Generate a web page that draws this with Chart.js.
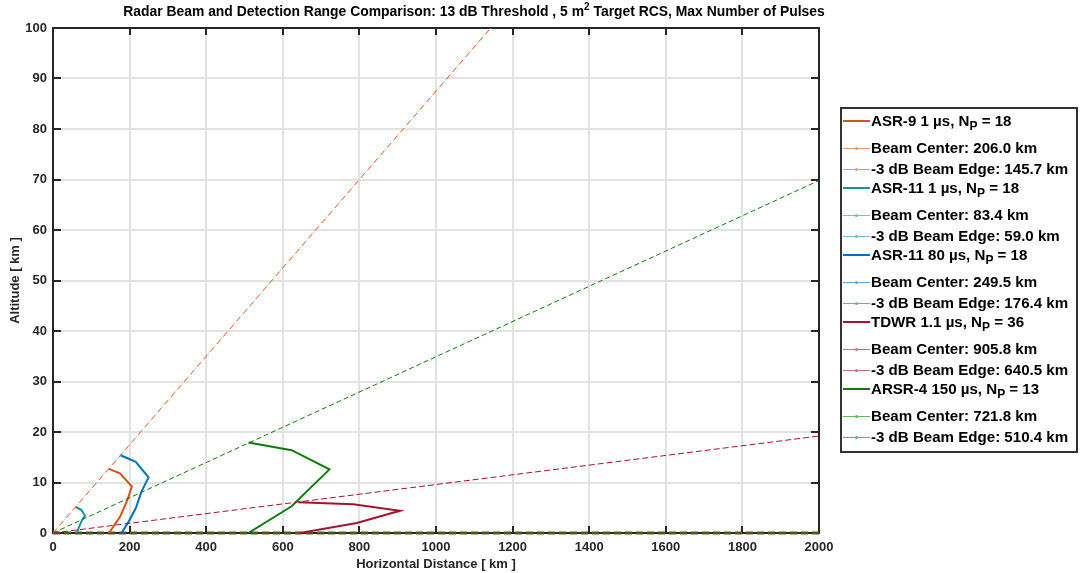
<!DOCTYPE html>
<html lang="en">
<head>
    <meta charset="UTF-8">
    <title>Radar Beam and Detection Range Comparison</title>
    <script src="https://cdn.jsdelivr.net/npm/chart.js"></script>
    <style>
        body {
            margin: 0;
            padding: 0;
            background: #ffffff;
            font-family: 'Liberation Sans', Arial, sans-serif;
        }

        .wrap {
            position: relative;
            width: 1081px;
            height: 573px;
        }

        #chartTitle {
            position: absolute;
            left: 0;
            top: 3px;
            width: 948px;
            text-align: center;
            font-weight: bold;
            font-size: 13.9px;
            color: #000;
            white-space: nowrap;
        }

        #chartTitle sup { font-size: 10px; line-height: 0; }

        /* legenda a la derecha */
        #legend {
            position: absolute;
            left: 840px;
            top: 107px;
            width: 238px;
            height: 346px;
            border: 2px solid #333;
            box-sizing: border-box;
            padding-top: 3px;
            font-weight: bold;
            font-size: 15.1px;
            color: #000;
        }

        .row { position: relative; height: 20.5px; line-height: 20.5px; white-space: nowrap; }
        .row.main { height: 26px; line-height: 18px; }
        .row span.txt { position: absolute; left: 29px; top: 0; }
        .row sub { font-size: 12px; line-height: 0; }

        .sw { position: absolute; left: 1px; width: 27px; }
        .main .sw { top: 8px; height: 2px; }
        .sub .sw { top: 10px; height: 1px; opacity: 0.6; }
        .sub .sw::after {
            content: '';
            position: absolute;
            left: 12px;
            top: -1px;
            width: 3px;
            height: 3px;
            border-radius: 50%;
            background: inherit;
        }
    </style>
</head>
<body>

<div class="wrap">
    <canvas id="radarChart" width="1081" height="573"></canvas>
    <div id="chartTitle">Radar Beam and Detection Range Comparison: 13 dB Threshold , 5 m<sup>2</sup> Target RCS, Max Number of Pulses</div>
    <div id="legend"></div>
</div>

<script>
    // Curvas de alcance de deteccion (km horizontal, km altitud)
    const asr9X = [146, 175, 194, 206.0, 175, 145.7];
    const asr9Y = [0, 3.2, 6.5, 9.2, 11.8, 12.7];

    const asr11X = [62, 68, 76, 83.4, 74, 59.0];
    const asr11Y = [0, 1.2, 2.6, 3.4, 4.6, 5.15];

    const asr11LongX = [179, 197, 216, 231, 249.5, 216, 176.4];
    const asr11LongY = [0, 2.2, 4.9, 8.2, 11.0, 14.1, 15.4];

    const tdwrX = [645, 793, 905.8, 784, 640.5];
    const tdwrY = [0, 2.0, 4.4, 5.7, 6.1];

    const arsr4X = [510, 623, 721.8, 623, 510.4];
    const arsr4Y = [0, 5.3, 12.6, 16.4, 17.9];

    // Bordes del haz (-3 dB) desde el radar
    const edge5X = [0, 1143];
    const edge5Y = [0, 100];
    const edge2X = [0, 2000];
    const edge2Y = [0, 69.8];
    const edgeTdwrX = [0, 2000];
    const edgeTdwrY = [0, 19.2];

    // Centro del haz a nivel del suelo
    const groundX = [0, 2000];
    const groundY = [0, 0];

    const xTicks = [0, 200, 400, 600, 800, 1000, 1200, 1400, 1600, 1800, 2000];
    const yTicks = [0, 10, 20, 30, 40, 50, 60, 70, 80, 90, 100];

    const cOrange = '#D95319';
    const cTeal = '#15969c';
    const cBlue = '#0072BD';
    const cRed = '#A2142F';
    const cGreen = '#0a7d0a';

    function pts(xs, ys) {
        return xs.map((x, i) => ({ x: x, y: ys[i] }));
    }

    function line(xs, ys, color, width, dash, extra) {
        return Object.assign({
            data: pts(xs, ys),
            borderColor: color,
            borderWidth: width,
            borderDash: dash || [],
            pointRadius: 0,
            showLine: true,
            fill: false,
            tension: 0
        }, extra || {});
    }

    // Marcas de los ejes hacia adentro y caja completa (estilo MATLAB)
    const boxTicks = {
        id: 'boxTicks',
        beforeDatasetsDraw(chart) {
            const { ctx, chartArea: a, scales } = chart;
            ctx.save();
            ctx.strokeStyle = '#262626';
            ctx.lineWidth = 2;
            xTicks.forEach(v => {
                const px = Math.round(scales.x.getPixelForValue(v));
                ctx.beginPath();
                ctx.moveTo(px, a.bottom); ctx.lineTo(px, a.bottom - 7);
                ctx.moveTo(px, a.top); ctx.lineTo(px, a.top + 7);
                ctx.stroke();
            });
            yTicks.forEach(v => {
                const py = Math.round(scales.y.getPixelForValue(v));
                ctx.beginPath();
                ctx.moveTo(a.left, py); ctx.lineTo(a.left + 8, py);
                ctx.moveTo(a.right, py); ctx.lineTo(a.right - 8, py);
                ctx.stroke();
            });
            ctx.strokeRect(a.left, a.top, a.right - a.left, a.bottom - a.top);
            ctx.restore();
        }
    };

    const tickFont = { family: 'Liberation Sans', size: 13, weight: 'bold' };

    const ctx = document.getElementById('radarChart').getContext('2d');
    const radarChart = new Chart(ctx, {
        type: 'scatter',
        data: {
            datasets: [
                line(edge5X, edge5Y, cOrange, 1, [6, 4]),
                line(edge5X, edge5Y, '#7fc6e0', 1, [1, 9], { borderDashOffset: -7 }),
                line(edge2X, edge2Y, cGreen, 1, [5, 3]),
                line(edgeTdwrX, edgeTdwrY, cRed, 1, [6, 3]),
                line(asr9X, asr9Y, cOrange, 2),
                line(asr11X, asr11Y, cTeal, 2),
                line(asr11LongX, asr11LongY, cBlue, 2),
                line(tdwrX, tdwrY, cRed, 2),
                line(arsr4X, arsr4Y, cGreen, 2),
                line(groundX, groundY, '#57561a', 3, [7, 4], { clip: false })
            ]
        },
        options: {
            responsive: false,
            animation: false,
            layout: { padding: { left: 0, top: 28, right: 262, bottom: 0 } },
            plugins: {
                legend: { display: false },
                tooltip: { enabled: false }
            },
            scales: {
                x: {
                    type: 'linear',
                    min: 0,
                    max: 2000,
                    afterBuildTicks(scale) { scale.ticks = xTicks.map(v => ({ value: v })); },
                    afterFit(scale) { scale.height = 40; },
                    grid: { color: '#e2e2e2', lineWidth: 2, drawTicks: false },
                    border: { display: false },
                    ticks: {
                        padding: 7,
                        color: '#262626',
                        font: tickFont,
                        maxRotation: 0,
                        callback: v => String(v)
                    },
                    title: {
                        display: true,
                        text: 'Horizontal Distance [ km ]',
                        color: '#262626',
                        font: tickFont,
                        padding: { top: 0, bottom: 1 }
                    }
                },
                y: {
                    type: 'linear',
                    min: 0,
                    max: 100,
                    afterBuildTicks(scale) { scale.ticks = yTicks.map(v => ({ value: v })); },
                    afterFit(scale) { scale.width = 53; },
                    grid: { color: '#e2e2e2', lineWidth: 2, drawTicks: false },
                    border: { display: false },
                    ticks: {
                        padding: 6,
                        color: '#262626',
                        font: tickFont,
                        callback: v => String(v)
                    },
                    title: {
                        display: true,
                        text: 'Altitude [ km ]',
                        color: '#262626',
                        font: tickFont,
                        padding: { top: 8, bottom: 0 }
                    }
                }
            }
        },
        plugins: [boxTicks]
    });

    // Entradas de la leyenda
    const legendRows = [
        ['main', cOrange, 'ASR-9 1 µs, N<sub>P</sub> = 18'],
        ['sub', cOrange, 'Beam Center: 206.0 km'],
        ['sub', cOrange, '-3 dB Beam Edge: 145.7 km'],
        ['main', cTeal, 'ASR-11 1 µs, N<sub>P</sub> = 18'],
        ['sub', cTeal, 'Beam Center: 83.4 km'],
        ['sub', cTeal, '-3 dB Beam Edge: 59.0 km'],
        ['main', cBlue, 'ASR-11 80 µs, N<sub>P</sub> = 18'],
        ['sub', cBlue, 'Beam Center: 249.5 km'],
        ['sub', cBlue, '-3 dB Beam Edge: 176.4 km'],
        ['main', cRed, 'TDWR 1.1 µs, N<sub>P</sub> = 36'],
        ['sub', cRed, 'Beam Center: 905.8 km'],
        ['sub', cRed, '-3 dB Beam Edge: 640.5 km'],
        ['main', cGreen, 'ARSR-4 150 µs, N<sub>P</sub> = 13'],
        ['sub', cGreen, 'Beam Center: 721.8 km'],
        ['sub', cGreen, '-3 dB Beam Edge: 510.4 km']
    ];

    document.getElementById('legend').innerHTML = legendRows.map(r =>
        `<div class="row ${r[0]}"><span class="sw" style="background:${r[1]}"></span><span class="txt">${r[2]}</span></div>`
    ).join('');
</script>

</body>
</html>
